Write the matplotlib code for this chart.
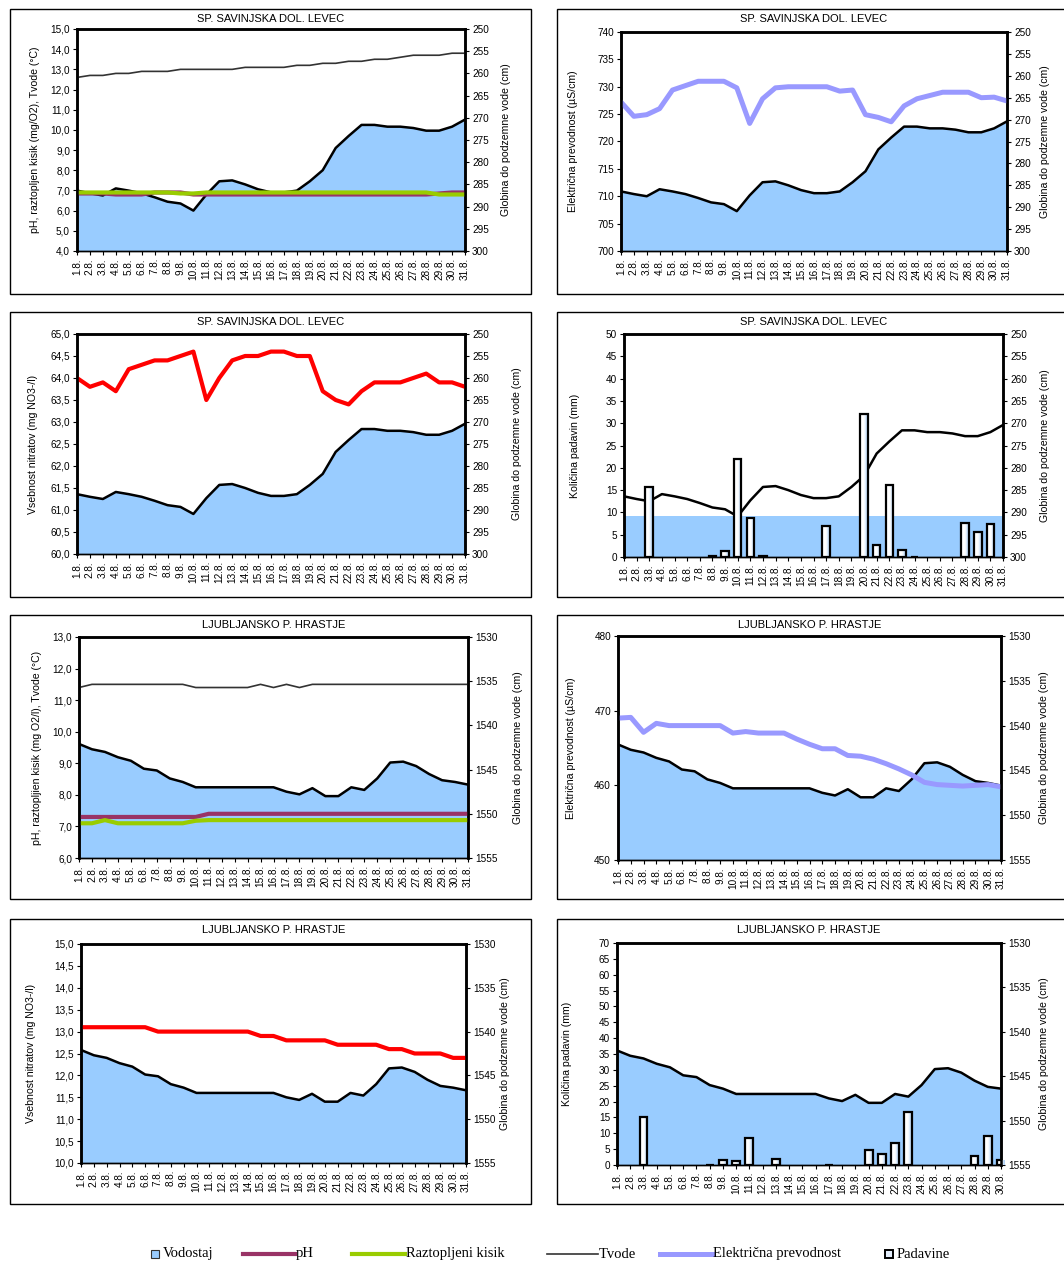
import numpy as np
import matplotlib
matplotlib.use("Agg")
import matplotlib.pyplot as plt
from matplotlib.ticker import FuncFormatter, MultipleLocator
from matplotlib.patches import Rectangle
from matplotlib.lines import Line2D
from matplotlib.colors import LinearSegmentedColormap

plt.rcParams['font.family'] = ['Liberation Sans Narrow', 'Liberation Sans', 'DejaVu Sans']

# --- podatki ---
dnevi = list(range(1, 32))

# Levec
levec_globina = [286.4, 287.0, 287.5, 285.9, 286.4, 287.0, 287.9, 288.9, 289.3, 290.9,
                 287.3, 284.3, 284.1, 285.0, 286.1, 286.8, 286.8, 286.4, 284.3, 281.8,
                 276.8, 274.1, 271.6, 271.6, 272.0, 272.0, 272.3, 272.9, 272.9, 272.0, 270.4]
levec_tvode = [12.6, 12.7, 12.7, 12.8, 12.8, 12.9, 12.9, 12.9, 13.0, 13.0, 13.0, 13.0, 13.0,
               13.1, 13.1, 13.1, 13.1, 13.2, 13.2, 13.3, 13.3, 13.4, 13.4, 13.5, 13.5, 13.6,
               13.7, 13.7, 13.7, 13.8, 13.8]
levec_ph = [6.85, 6.85, 6.85, 6.8, 6.8, 6.8, 6.9, 6.9, 6.9, 6.8, 6.8, 6.8, 6.8, 6.8, 6.8, 6.8,
            6.8, 6.8, 6.8, 6.8, 6.8, 6.8, 6.8, 6.8, 6.8, 6.8, 6.8, 6.8, 6.85, 6.9, 6.9]
levec_kisik = [6.9, 6.9, 6.9, 6.9, 6.9, 6.9, 6.9, 6.9, 6.85, 6.85, 6.9, 6.9, 6.9, 6.9, 6.9, 6.9,
               6.9, 6.9, 6.9, 6.9, 6.9, 6.9, 6.9, 6.9, 6.9, 6.9, 6.9, 6.9, 6.8, 6.8, 6.8]
levec_ep = [727.2, 724.6, 724.9, 726.0, 729.4, 730.2, 731.0, 731.0, 731.0, 729.8, 723.3, 727.8,
            729.8, 730.0, 730.0, 730.0, 730.0, 729.2, 729.4, 724.9, 724.4, 723.6, 726.5, 727.8,
            728.4, 729.0, 729.0, 729.0, 728.0, 728.1, 727.4]
levec_nitrat = [64.0, 63.8, 63.9, 63.7, 64.2, 64.3, 64.4, 64.4, 64.5, 64.6, 63.5, 64.0, 64.4,
                64.5, 64.5, 64.6, 64.6, 64.5, 64.5, 63.7, 63.5, 63.4, 63.7, 63.9, 63.9, 63.9,
                64.0, 64.1, 63.9, 63.9, 63.8]
levec_padavine = [0, 0, 15.8, 0, 0, 0, 0, 0.2, 1.4, 22.0, 8.7, 0.2, 0, 0, 0, 0, 7.0, 0, 0, 32.0,
                  2.8, 16.1, 1.5, 0.1, 0, 0, 0, 7.6, 5.6, 7.4, 0]

# Hrastje
hrastje_globina = [1542.1, 1542.7, 1543.0, 1543.6, 1544.0, 1544.9, 1545.1, 1546.0, 1546.4, 1547.0,
                   1547.0, 1547.0, 1547.0, 1547.0, 1547.0, 1547.0, 1547.5, 1547.8, 1547.1, 1548.0,
                   1548.0, 1547.0, 1547.3, 1546.0, 1544.2, 1544.1, 1544.6, 1545.5, 1546.2, 1546.4,
                   1546.7]
hrastje_tvode = [11.4, 11.5, 11.5, 11.5, 11.5, 11.5, 11.5, 11.5, 11.5, 11.4, 11.4, 11.4, 11.4,
                 11.4, 11.5, 11.4, 11.5, 11.4, 11.5, 11.5, 11.5, 11.5, 11.5, 11.5, 11.5, 11.5,
                 11.5, 11.5, 11.5, 11.5, 11.5]
hrastje_ph = [7.3] * 10 + [7.4] * 21
hrastje_kisik = [7.1, 7.1, 7.2, 7.1, 7.1, 7.1, 7.1, 7.1, 7.1, 7.18] + [7.2] * 21
hrastje_ep = [469.0, 469.1, 467.1, 468.3, 468.0, 468.0, 468.0, 468.0, 468.0, 467.0, 467.2, 467.0,
              467.0, 467.0, 466.2, 465.5, 464.9, 464.9, 464.0, 463.9, 463.5, 462.9, 462.2, 461.4,
              460.4, 460.1, 460.0, 459.9, 460.0, 460.1, 459.8]
hrastje_nitrat = [13.1] * 6 + [13.0] * 8 + [12.9] * 2 + [12.8] * 4 + [12.7] * 4 + [12.6] * 2 + \
                 [12.5] * 3 + [12.4] * 2
hrastje_padavine = [0, 0, 15.0, 0, 0, 0, 0, 0.1, 1.6, 1.4, 8.5, 0, 2.0, 0, 0, 0, 0.1, 0, 0, 4.6,
                    3.4, 6.8, 16.6, 0, 0, 0, 0, 2.8, 9.2, 1.5]

# --- barve ---
C_VOD = '#99CCFF'
C_PH = '#993366'
C_O2 = '#99CC00'
C_T = '#333333'
C_EP = '#9999FF'
C_NO3 = '#FF0000'
C_BAR = '#e3edfb'
gradient = LinearSegmentedColormap.from_list('bar', ['#ffffff', '#ffffff', '#a8cdf5'])

W, H = 1064, 1262
fig = plt.figure(figsize=(W / 100, H / 100), dpi=100)

fs_tick = 7.2
fs_lab = 7.6


def vejica(dec):
    return FuncFormatter(lambda v, p: f"{v:.{dec}f}".replace('.', ','))


def okvir(l, t, r, b):
    fig.patches.append(Rectangle((l / W, 1 - b / H), (r - l) / W, (b - t) / H,
                                 transform=fig.transFigure, fill=False,
                                 edgecolor='black', linewidth=1.0))


def panel(l, t, r, b, naslov, title_y, xs, gmeje, lmeje, lkorak, ldec,
          llabel, lab_l, lab_r):
    ax = fig.add_axes([l / W, 1 - b / H, (r - l) / W, (b - t) / H])
    ax2 = ax.twinx()
    ax.set_zorder(ax2.get_zorder() + 1)
    ax.patch.set_visible(False)
    ax2.set_ylim(gmeje[1], gmeje[0])
    ax2.yaxis.set_major_locator(MultipleLocator(5))
    ax.set_ylim(*lmeje)
    ax.yaxis.set_major_locator(MultipleLocator(lkorak))
    ax.yaxis.set_major_formatter(vejica(ldec))
    ax.set_xlim(xs[0], xs[-1])
    ax.set_xticks(xs)
    ax.set_xticklabels([f"{d}.8." for d in xs], rotation=90, fontsize=fs_tick)
    for a in (ax, ax2):
        a.tick_params(axis='both', direction='out', length=3, width=0.8, labelsize=fs_tick, pad=2)
        for s in a.spines.values():
            s.set_linewidth(1.8)
    ax.spines['bottom'].set_linewidth(1.0)
    ax2.spines['bottom'].set_linewidth(1.0)
    ax.set_ylabel(llabel, fontsize=fs_lab)
    ax2.set_ylabel('Globina do podzemne vode (cm)', fontsize=fs_lab)
    w = r - l
    ax.yaxis.set_label_coords((lab_l - l) / w, 0.5)
    ax2.yaxis.set_label_coords((lab_r - l) / w, 0.5)
    fig.text(((l + r) / 2) / W, 1 - title_y / H, naslov, ha='center', va='center', fontsize=8)
    return ax, ax2


def stolpci(ax, xs, vals):
    bars = ax.bar(xs, vals, width=0.6, facecolor='none', edgecolor='black', linewidth=1.6,
                  zorder=3)
    grad = np.linspace(0, 1, 64).reshape(1, -1)
    for p, v in zip(bars.patches, vals):
        if v <= 0:
            p.set_visible(False)
            continue
        im = ax.imshow(grad, cmap=gradient, aspect='auto', zorder=2,
                       extent=(p.get_x(), p.get_x() + p.get_width(), 0, v))
        im.set_clip_path(p)
    ax.set_xlim(xs[0], xs[-1])
    ax.set_ylim(ax.get_ylim())


# vrstica 1
okvir(10, 9, 531, 294)
okvir(557, 9, 1075, 294)
ax, ax2 = panel(77, 29, 465, 251, 'SP. SAVINJSKA DOL. LEVEC', 19, dnevi,
                (250, 300), (4, 15), 1, 1, 'pH, raztopljen kisik (mg/O2), Tvode (°C)', 40, 501)
ax2.fill_between(dnevi, levec_globina, 300, color=C_VOD, linewidth=0)
ax2.plot(dnevi, levec_globina, color='black', linewidth=1.8)
ax.plot(dnevi, levec_tvode, color=C_T, linewidth=1.2)
ax.plot(dnevi, levec_ph, color=C_PH, linewidth=3)
ax.plot(dnevi, levec_kisik, color=C_O2, linewidth=3)

ax, ax2 = panel(621, 32, 1007, 251, 'SP. SAVINJSKA DOL. LEVEC', 19, dnevi,
                (250, 300), (700, 740), 5, 0, 'Električna prevodnost (µS/cm)', 578, 1040)
ax2.fill_between(dnevi, levec_globina, 300, color=C_VOD, linewidth=0)
ax2.plot(dnevi, levec_globina, color='black', linewidth=1.8)
ax.plot(dnevi, levec_ep, color=C_EP, linewidth=3.6)

# vrstica 2
okvir(10, 312, 531, 597)
okvir(557, 312, 1075, 597)
ax, ax2 = panel(77, 334, 465, 554, 'SP. SAVINJSKA DOL. LEVEC', 322, dnevi,
                (250, 300), (60, 65), 0.5, 1, 'Vsebnost nitratov (mg NO3-/l)', 38, 512)
ax2.fill_between(dnevi, levec_globina, 300, color=C_VOD, linewidth=0)
ax2.plot(dnevi, levec_globina, color='black', linewidth=1.8)
ax.plot(dnevi, levec_nitrat, color=C_NO3, linewidth=3)

ax, ax2 = panel(624, 334, 1003, 557, 'SP. SAVINJSKA DOL. LEVEC', 322, dnevi,
                (250, 300), (0, 50), 5, 0, 'Količina padavin (mm)', 580, 1040)
ax2.fill_between(dnevi, np.full(len(dnevi), max(levec_globina)), 300, color=C_VOD, linewidth=0)
ax2.plot(dnevi, levec_globina, color='black', linewidth=1.8)
stolpci(ax, dnevi, levec_padavine)

# vrstica 3
okvir(10, 615, 531, 899)
okvir(557, 615, 1075, 899)
ax, ax2 = panel(79, 637, 468, 858, 'LJUBLJANSKO P. HRASTJE', 625, dnevi,
                (1530, 1555), (6, 13), 1, 1, 'pH, raztopljien kisik (mg O2/l), Tvode (°C)', 42, 513)
ax2.fill_between(dnevi, hrastje_globina, 1555, color=C_VOD, linewidth=0)
ax2.plot(dnevi, hrastje_globina, color='black', linewidth=1.8)
ax.plot(dnevi, hrastje_tvode, color=C_T, linewidth=1.2)
ax.plot(dnevi, hrastje_ph, color=C_PH, linewidth=3)
ax.plot(dnevi, hrastje_kisik, color=C_O2, linewidth=3)

ax, ax2 = panel(618, 636, 1001, 860, 'LJUBLJANSKO P. HRASTJE', 625, dnevi,
                (1530, 1555), (450, 480), 10, 0, 'Električna prevodnost (µS/cm)', 576, 1039)
ax2.fill_between(dnevi, hrastje_globina, 1555, color=C_VOD, linewidth=0)
ax2.plot(dnevi, hrastje_globina, color='black', linewidth=1.8)
ax.plot(dnevi, hrastje_ep, color=C_EP, linewidth=3.6)

# vrstica 4
okvir(10, 919, 531, 1204)
okvir(557, 919, 1075, 1204)
ax, ax2 = panel(81, 944, 466, 1163, 'LJUBLJANSKO P. HRASTJE', 930, dnevi,
                (1530, 1555), (10, 15), 0.5, 1, 'Vsebnost nitratov (mg NO3-/l)', 36, 500)
ax2.fill_between(dnevi, hrastje_globina, 1555, color=C_VOD, linewidth=0)
ax2.plot(dnevi, hrastje_globina, color='black', linewidth=1.8)
ax.plot(dnevi, hrastje_nitrat, color=C_NO3, linewidth=3)

dnevi30 = dnevi[:30]
ax, ax2 = panel(617, 943, 1001, 1165, 'LJUBLJANSKO P. HRASTJE', 930, dnevi30,
                (1530, 1555), (0, 70), 5, 0, 'Količina padavin (mm)', 572, 1039)
ax2.fill_between(dnevi30, hrastje_globina[:30], 1555, color=C_VOD, linewidth=0)
ax2.plot(dnevi30, hrastje_globina[:30], color='black', linewidth=1.8)
stolpci(ax, dnevi30, hrastje_padavine)

# --- legenda ---
ly = 1 - 1254 / H
lfont = dict(family=['Liberation Serif', 'DejaVu Serif'], fontsize=10.5, va='center', ha='left')
fig.patches.append(Rectangle((151 / W, ly - 4 / H), 8 / W, 8 / H, transform=fig.transFigure,
                             facecolor=C_VOD, edgecolor='#333333', linewidth=0.8))
fig.text(163 / W, ly, 'Vodostaj', **lfont)
for x0, x1, barva, lw, ime in [(243, 295, C_PH, 3, 'pH'),
                               (352, 405, C_O2, 3, 'Raztopljeni kisik'),
                               (547, 598, C_T, 1.2, 'Tvode'),
                               (660, 712, C_EP, 3.6, 'Električna prevodnost')]:
    fig.lines.append(Line2D([x0 / W, x1 / W], [ly, ly], transform=fig.transFigure,
                            color=barva, linewidth=lw))
    fig.text((x1 + 1) / W, ly, ime, **lfont)
fig.patches.append(Rectangle((885 / W, ly - 4 / H), 8 / W, 8 / H, transform=fig.transFigure,
                             facecolor=C_BAR, edgecolor='black', linewidth=1.4))
fig.text(897 / W, ly, 'Padavine', **lfont)

fig.savefig('out.png', dpi=100)
